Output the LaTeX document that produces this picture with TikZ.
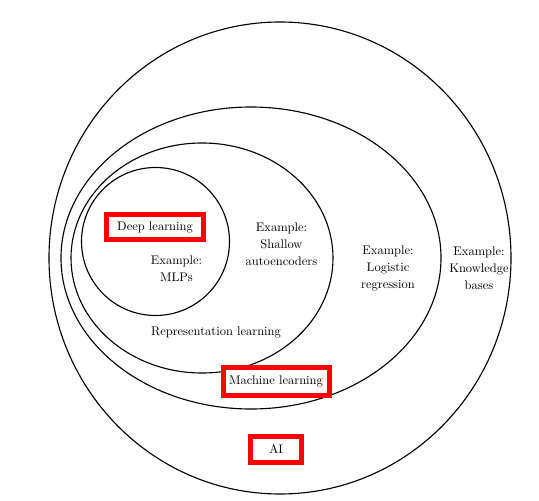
\documentclass[tikz,border=0pt]{standalone}
\usepackage{tikz}

\begin{document}
\begin{tikzpicture}[x=0.8pt,y=0.8pt,
  ring/.style={line width=0.9pt},
  redbox/.style={draw=red,fill=white,line width=4pt,inner sep=0pt},
  txt/.style={align=center,font=\fontsize{10}{13.6}\selectfont}]
  \useasboundingbox (0,0) rectangle (539,500);

  % nested sets
  \draw[ring] (280,242) ellipse (231 and 236);
  \draw[ring] (251,242) ellipse (190 and 151);
  \draw[ring] (202,242) ellipse (131 and 115);
  \draw[ring] (155.5,258.5) circle (74);

  \node[redbox,minimum width=77.4pt,minimum height=20.5pt] (deep) at (155,273) {Deep learning};
  \node[txt] (mlp) at (176.5,231.3) {Example:\\MLPs};
  \node[txt] (shallow) at (281.5,256) {Example:\\Shallow\\autoencoders};
  \node[txt] (logreg) at (388,231.3) {Example:\\Logistic\\regression};
  \node[txt] (kb) at (479,231.3) {Example:\\Knowledge\\bases};
  \node[txt] (repr) at (216,167.3) {Representation learning};

  \node[redbox,minimum width=84.8pt,minimum height=22.7pt] (ml) at (276,118.3) {Machine learning};
  \node[redbox,minimum width=40.8pt,minimum height=20.8pt] (ai) at (276,50.5) {AI};
\end{tikzpicture}
\end{document}
